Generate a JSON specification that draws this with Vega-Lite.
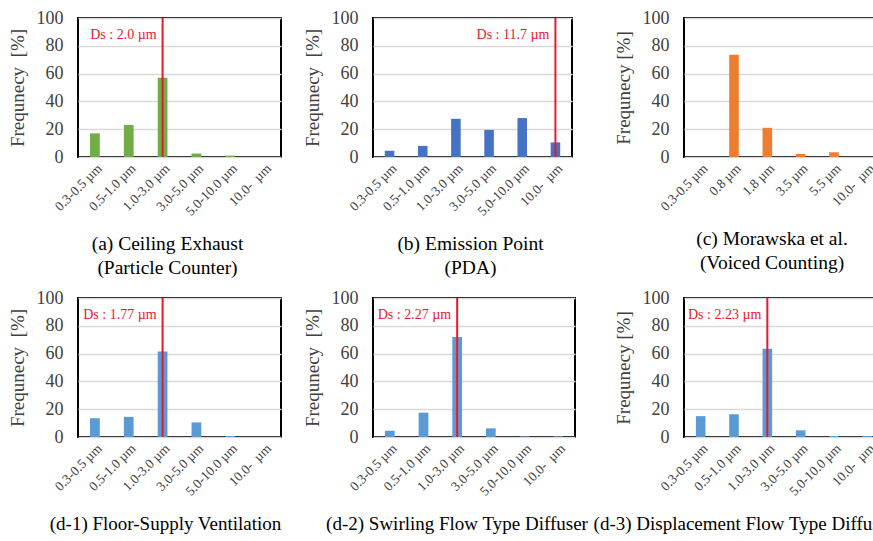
{
  "$schema": "https://vega.github.io/schema/vega-lite/v6.json",
  "background": "white",
  "padding": {"left": 7, "top": 8, "right": 0, "bottom": 0},
  "datasets": {
    "a": [
      {"size": "0.3-0.5 µm", "freq": 17},
      {"size": "0.5-1.0 µm", "freq": 23},
      {"size": "1.0-3.0 µm", "freq": 57},
      {"size": "3.0-5.0 µm", "freq": 2.5},
      {"size": "5.0-10.0 µm", "freq": 1},
      {"size": "10.0-\u00a0\u00a0µm", "freq": 0}
    ],
    "b": [
      {"size": "0.3-0.5 µm", "freq": 4.5},
      {"size": "0.5-1.0 µm", "freq": 8},
      {"size": "1.0-3.0 µm", "freq": 27.5},
      {"size": "3.0-5.0 µm", "freq": 19.5},
      {"size": "5.0-10.0 µm", "freq": 28},
      {"size": "10.0-\u00a0\u00a0µm", "freq": 10.5}
    ],
    "c": [
      {"size": "0.3-0.5 µm", "freq": 0},
      {"size": "0.8 µm", "freq": 73.5},
      {"size": "1.8 µm", "freq": 21},
      {"size": "3.5 µm", "freq": 2.2},
      {"size": "5.5 µm", "freq": 3.4},
      {"size": "10.0-\u00a0\u00a0µm", "freq": 0}
    ],
    "d1": [
      {"size": "0.3-0.5 µm", "freq": 13.5},
      {"size": "0.5-1.0 µm", "freq": 14.5},
      {"size": "1.0-3.0 µm", "freq": 61.5},
      {"size": "3.0-5.0 µm", "freq": 10.5},
      {"size": "5.0-10.0 µm", "freq": 0.7},
      {"size": "10.0-\u00a0\u00a0µm", "freq": 0}
    ],
    "d2": [
      {"size": "0.3-0.5 µm", "freq": 4.5},
      {"size": "0.5-1.0 µm", "freq": 17.5},
      {"size": "1.0-3.0 µm", "freq": 72},
      {"size": "3.0-5.0 µm", "freq": 6.2},
      {"size": "5.0-10.0 µm", "freq": 0.5},
      {"size": "10.0-\u00a0\u00a0µm", "freq": 0.5}
    ],
    "d3": [
      {"size": "0.3-0.5 µm", "freq": 15},
      {"size": "0.5-1.0 µm", "freq": 16.3},
      {"size": "1.0-3.0 µm", "freq": 63.5},
      {"size": "3.0-5.0 µm", "freq": 4.8},
      {"size": "5.0-10.0 µm", "freq": 0.7},
      {"size": "10.0-\u00a0\u00a0µm", "freq": 0.7}
    ],
    "ds": [
      {"panel": "a", "size": "1.0-3.0 µm", "label": "Ds : 2.0 µm"},
      {"panel": "b", "size": "10.0-\u00a0\u00a0µm", "label": "Ds : 11.7 µm"},
      {"panel": "d1", "size": "1.0-3.0 µm", "label": "Ds : 1.77 µm"},
      {"panel": "d2", "size": "1.0-3.0 µm", "label": "Ds : 2.27 µm"},
      {"panel": "d3", "size": "1.0-3.0 µm", "label": "Ds : 2.23 µm"}
    ]
  },
  "concat": [
    {
      "width": 203, "height": 139,
      "title": {"text": ["(a) Ceiling Exhaust", "(Particle Counter)"], "dx": -12, "orient": "bottom", "anchor": "middle", "frame": "group", "font": "Liberation Serif", "fontSize": 19.5, "fontWeight": "normal", "color": "black", "lineHeight": 24, "offset": 17},
      "encoding": {"x": {"field": "size", "type": "nominal", "title": null, "scale": {"domain": ["0.3-0.5 µm", "0.5-1.0 µm", "1.0-3.0 µm", "3.0-5.0 µm", "5.0-10.0 µm", "10.0-\u00a0\u00a0µm"]},
        "axis": {"labelAngle": -45, "labelFont": "Liberation Serif", "labelFontSize": 13.5, "labelColor": "#404040", "labelPadding": 4, "domain": false, "ticks": false, "grid": false, "labelOverlap": false}}},
      "layer": [
        {"data": {"name": "a"}, "mark": {"type": "bar", "color": "#70AD47", "width": {"band": 0.32}},
         "encoding": {"y": {"field": "freq", "type": "quantitative", "title": "Frequnecy\u00a0\u00a0[%]", "scale": {"domain": [0, 100], "nice": false},
           "axis": {"values": [0, 20, 40, 60, 80, 100], "labelFont": "Liberation Serif", "labelFontSize": 18, "labelColor": "#404040", "labelPadding": 15, "labelOverlap": false, "titleFont": "Liberation Serif", "titleFontSize": 19, "titleFontWeight": "normal", "titleColor": "#404040", "titlePadding": 9, "domain": false, "ticks": false, "grid": true, "gridColor": "#D9D9D9", "gridWidth": 1.5}}}},
        {"data": {"name": "ds"}, "transform": [{"filter": "datum.panel === 'a'"}], "mark": {"type": "rule", "color": "#E8192C", "strokeWidth": 2}, "encoding": {}},
        {"data": {"name": "ds"}, "transform": [{"filter": "datum.panel === 'a'"}], "mark": {"type": "text", "align": "right", "baseline": "middle", "dx": -6, "color": "#E8192C", "font": "Liberation Serif", "fontSize": 14},
         "encoding": {"y": {"datum": 88, "type": "quantitative", "title": "Frequnecy\u00a0\u00a0[%]", "scale": {"domain": [0, 100], "nice": false},
           "axis": {"values": [0, 20, 40, 60, 80, 100], "labelFont": "Liberation Serif", "labelFontSize": 18, "labelColor": "#404040", "labelPadding": 15, "labelOverlap": false, "titleFont": "Liberation Serif", "titleFontSize": 19, "titleFontWeight": "normal", "titleColor": "#404040", "titlePadding": 9, "domain": false, "ticks": false, "grid": true, "gridColor": "#D9D9D9", "gridWidth": 1.5}}, "text": {"field": "label"}}}
      ]
    },
    {"width": 90, "height": 139, "data": {"values": [{"v": 1}]}, "mark": {"type": "point", "opacity": 0}, "encoding": {}, "view": {"stroke": null}},
    {
      "width": 199, "height": 139,
      "title": {"text": ["(b) Emission Point", "(PDA)"], "dx": -2, "orient": "bottom", "anchor": "middle", "frame": "group", "font": "Liberation Serif", "fontSize": 19.5, "fontWeight": "normal", "color": "black", "lineHeight": 24, "offset": 17},
      "encoding": {"x": {"field": "size", "type": "nominal", "title": null, "scale": {"domain": ["0.3-0.5 µm", "0.5-1.0 µm", "1.0-3.0 µm", "3.0-5.0 µm", "5.0-10.0 µm", "10.0-\u00a0\u00a0µm"]},
        "axis": {"labelAngle": -45, "labelFont": "Liberation Serif", "labelFontSize": 13.5, "labelColor": "#404040", "labelPadding": 4, "domain": false, "ticks": false, "grid": false, "labelOverlap": false}}},
      "layer": [
        {"data": {"name": "b"}, "mark": {"type": "bar", "color": "#4472C4", "width": {"band": 0.32}},
         "encoding": {"y": {"field": "freq", "type": "quantitative", "title": "Frequnecy\u00a0\u00a0[%]", "scale": {"domain": [0, 100], "nice": false},
           "axis": {"values": [0, 20, 40, 60, 80, 100], "labelFont": "Liberation Serif", "labelFontSize": 18, "labelColor": "#404040", "labelPadding": 15, "labelOverlap": false, "titleFont": "Liberation Serif", "titleFontSize": 19, "titleFontWeight": "normal", "titleColor": "#404040", "titlePadding": 9, "domain": false, "ticks": false, "grid": true, "gridColor": "#D9D9D9", "gridWidth": 1.5}}}},
        {"data": {"name": "ds"}, "transform": [{"filter": "datum.panel === 'b'"}], "mark": {"type": "rule", "color": "#E8192C", "strokeWidth": 2}, "encoding": {}},
        {"data": {"name": "ds"}, "transform": [{"filter": "datum.panel === 'b'"}], "mark": {"type": "text", "align": "right", "baseline": "middle", "dx": -6, "color": "#E8192C", "font": "Liberation Serif", "fontSize": 14},
         "encoding": {"y": {"datum": 88, "type": "quantitative", "title": "Frequnecy\u00a0\u00a0[%]", "scale": {"domain": [0, 100], "nice": false},
           "axis": {"values": [0, 20, 40, 60, 80, 100], "labelFont": "Liberation Serif", "labelFontSize": 18, "labelColor": "#404040", "labelPadding": 15, "labelOverlap": false, "titleFont": "Liberation Serif", "titleFontSize": 19, "titleFontWeight": "normal", "titleColor": "#404040", "titlePadding": 9, "domain": false, "ticks": false, "grid": true, "gridColor": "#D9D9D9", "gridWidth": 1.5}}, "text": {"field": "label"}}}
      ]
    },
    {"width": 109, "height": 139, "data": {"values": [{"v": 1}]}, "mark": {"type": "point", "opacity": 0}, "encoding": {}, "view": {"stroke": null}},
    {
      "width": 200, "height": 139,
      "title": {"text": ["(c) Morawska et al.", "(Voiced Counting)"], "dx": -12, "orient": "bottom", "anchor": "middle", "frame": "group", "font": "Liberation Serif", "fontSize": 19.5, "fontWeight": "normal", "color": "black", "lineHeight": 24, "offset": 17},
      "encoding": {"x": {"field": "size", "type": "nominal", "title": null, "scale": {"domain": ["0.3-0.5 µm", "0.8 µm", "1.8 µm", "3.5 µm", "5.5 µm", "10.0-\u00a0\u00a0µm"]},
        "axis": {"labelAngle": -45, "labelFont": "Liberation Serif", "labelFontSize": 13.5, "labelColor": "#404040", "labelPadding": 4, "domain": false, "ticks": false, "grid": false, "labelOverlap": false}}},
      "layer": [
        {"data": {"name": "c"}, "mark": {"type": "bar", "color": "#ED7D31", "width": {"band": 0.32}},
         "encoding": {"y": {"field": "freq", "type": "quantitative", "title": "Frequnecy [%]", "scale": {"domain": [0, 100], "nice": false},
           "axis": {"values": [0, 20, 40, 60, 80, 100], "labelFont": "Liberation Serif", "labelFontSize": 18, "labelColor": "#404040", "labelPadding": 15, "labelOverlap": false, "titleFont": "Liberation Serif", "titleFontSize": 19, "titleFontWeight": "normal", "titleColor": "#404040", "titlePadding": 9, "domain": false, "ticks": false, "grid": true, "gridColor": "#D9D9D9", "gridWidth": 1.5}}}}
      ]
    },
    {
      "width": 203, "height": 139,
      "title": {"text": "(d-1) Floor-Supply Ventilation", "dx": -14, "orient": "bottom", "anchor": "middle", "frame": "group", "font": "Liberation Serif", "fontSize": 19, "fontWeight": "normal", "color": "black", "lineHeight": 24, "offset": 17},
      "encoding": {"x": {"field": "size", "type": "nominal", "title": null, "scale": {"domain": ["0.3-0.5 µm", "0.5-1.0 µm", "1.0-3.0 µm", "3.0-5.0 µm", "5.0-10.0 µm", "10.0-\u00a0\u00a0µm"]},
        "axis": {"labelAngle": -45, "labelFont": "Liberation Serif", "labelFontSize": 13.5, "labelColor": "#404040", "labelPadding": 4, "domain": false, "ticks": false, "grid": false, "labelOverlap": false}}},
      "layer": [
        {"data": {"name": "d1"}, "mark": {"type": "bar", "color": "#5B9BD5", "width": {"band": 0.32}},
         "encoding": {"y": {"field": "freq", "type": "quantitative", "title": "Frequnecy\u00a0\u00a0[%]", "scale": {"domain": [0, 100], "nice": false},
           "axis": {"values": [0, 20, 40, 60, 80, 100], "labelFont": "Liberation Serif", "labelFontSize": 18, "labelColor": "#404040", "labelPadding": 15, "labelOverlap": false, "titleFont": "Liberation Serif", "titleFontSize": 19, "titleFontWeight": "normal", "titleColor": "#404040", "titlePadding": 9, "domain": false, "ticks": false, "grid": true, "gridColor": "#D9D9D9", "gridWidth": 1.5}}}},
        {"data": {"name": "ds"}, "transform": [{"filter": "datum.panel === 'd1'"}], "mark": {"type": "rule", "color": "#E8192C", "strokeWidth": 2}, "encoding": {}},
        {"data": {"name": "ds"}, "transform": [{"filter": "datum.panel === 'd1'"}], "mark": {"type": "text", "align": "right", "baseline": "middle", "dx": -6, "color": "#E8192C", "font": "Liberation Serif", "fontSize": 14},
         "encoding": {"y": {"datum": 88, "type": "quantitative", "title": "Frequnecy\u00a0\u00a0[%]", "scale": {"domain": [0, 100], "nice": false},
           "axis": {"values": [0, 20, 40, 60, 80, 100], "labelFont": "Liberation Serif", "labelFontSize": 18, "labelColor": "#404040", "labelPadding": 15, "labelOverlap": false, "titleFont": "Liberation Serif", "titleFontSize": 19, "titleFontWeight": "normal", "titleColor": "#404040", "titlePadding": 9, "domain": false, "ticks": false, "grid": true, "gridColor": "#D9D9D9", "gridWidth": 1.5}}, "text": {"field": "label"}}}
      ]
    },
    {"width": 92, "height": 139, "data": {"values": [{"v": 1}]}, "mark": {"type": "point", "opacity": 0}, "encoding": {}, "view": {"stroke": null}},
    {
      "width": 202, "height": 139,
      "title": {"text": "(d-2) Swirling Flow Type Diffuser", "dx": -17, "orient": "bottom", "anchor": "middle", "frame": "group", "font": "Liberation Serif", "fontSize": 19, "fontWeight": "normal", "color": "black", "lineHeight": 24, "offset": 17},
      "encoding": {"x": {"field": "size", "type": "nominal", "title": null, "scale": {"domain": ["0.3-0.5 µm", "0.5-1.0 µm", "1.0-3.0 µm", "3.0-5.0 µm", "5.0-10.0 µm", "10.0-\u00a0\u00a0µm"]},
        "axis": {"labelAngle": -45, "labelFont": "Liberation Serif", "labelFontSize": 13.5, "labelColor": "#404040", "labelPadding": 4, "domain": false, "ticks": false, "grid": false, "labelOverlap": false}}},
      "layer": [
        {"data": {"name": "d2"}, "mark": {"type": "bar", "color": "#5B9BD5", "width": {"band": 0.32}},
         "encoding": {"y": {"field": "freq", "type": "quantitative", "title": "Frequnecy\u00a0\u00a0[%]", "scale": {"domain": [0, 100], "nice": false},
           "axis": {"values": [0, 20, 40, 60, 80, 100], "labelFont": "Liberation Serif", "labelFontSize": 18, "labelColor": "#404040", "labelPadding": 15, "labelOverlap": false, "titleFont": "Liberation Serif", "titleFontSize": 19, "titleFontWeight": "normal", "titleColor": "#404040", "titlePadding": 9, "domain": false, "ticks": false, "grid": true, "gridColor": "#D9D9D9", "gridWidth": 1.5}}}},
        {"data": {"name": "ds"}, "transform": [{"filter": "datum.panel === 'd2'"}], "mark": {"type": "rule", "color": "#E8192C", "strokeWidth": 2}, "encoding": {}},
        {"data": {"name": "ds"}, "transform": [{"filter": "datum.panel === 'd2'"}], "mark": {"type": "text", "align": "right", "baseline": "middle", "dx": -6, "color": "#E8192C", "font": "Liberation Serif", "fontSize": 14},
         "encoding": {"y": {"datum": 88, "type": "quantitative", "title": "Frequnecy\u00a0\u00a0[%]", "scale": {"domain": [0, 100], "nice": false},
           "axis": {"values": [0, 20, 40, 60, 80, 100], "labelFont": "Liberation Serif", "labelFontSize": 18, "labelColor": "#404040", "labelPadding": 15, "labelOverlap": false, "titleFont": "Liberation Serif", "titleFontSize": 19, "titleFontWeight": "normal", "titleColor": "#404040", "titlePadding": 9, "domain": false, "ticks": false, "grid": true, "gridColor": "#D9D9D9", "gridWidth": 1.5}}, "text": {"field": "label"}}}
      ]
    },
    {"width": 104, "height": 139, "data": {"values": [{"v": 1}]}, "mark": {"type": "point", "opacity": 0}, "encoding": {}, "view": {"stroke": null}},
    {
      "width": 200, "height": 139,
      "title": {"text": "(d-3) Displacement Flow Type Diffuser", "dx": -40, "orient": "bottom", "anchor": "middle", "frame": "group", "font": "Liberation Serif", "fontSize": 19, "fontWeight": "normal", "color": "black", "lineHeight": 24, "offset": 17},
      "encoding": {"x": {"field": "size", "type": "nominal", "title": null, "scale": {"domain": ["0.3-0.5 µm", "0.5-1.0 µm", "1.0-3.0 µm", "3.0-5.0 µm", "5.0-10.0 µm", "10.0-\u00a0\u00a0µm"]},
        "axis": {"labelAngle": -45, "labelFont": "Liberation Serif", "labelFontSize": 13.5, "labelColor": "#404040", "labelPadding": 4, "domain": false, "ticks": false, "grid": false, "labelOverlap": false}}},
      "layer": [
        {"data": {"name": "d3"}, "mark": {"type": "bar", "color": "#5B9BD5", "width": {"band": 0.32}},
         "encoding": {"y": {"field": "freq", "type": "quantitative", "title": "Frequnecy [%]", "scale": {"domain": [0, 100], "nice": false},
           "axis": {"values": [0, 20, 40, 60, 80, 100], "labelFont": "Liberation Serif", "labelFontSize": 18, "labelColor": "#404040", "labelPadding": 15, "labelOverlap": false, "titleFont": "Liberation Serif", "titleFontSize": 19, "titleFontWeight": "normal", "titleColor": "#404040", "titlePadding": 9, "domain": false, "ticks": false, "grid": true, "gridColor": "#D9D9D9", "gridWidth": 1.5}}}},
        {"data": {"name": "ds"}, "transform": [{"filter": "datum.panel === 'd3'"}], "mark": {"type": "rule", "color": "#E8192C", "strokeWidth": 2}, "encoding": {}},
        {"data": {"name": "ds"}, "transform": [{"filter": "datum.panel === 'd3'"}], "mark": {"type": "text", "align": "right", "baseline": "middle", "dx": -6, "color": "#E8192C", "font": "Liberation Serif", "fontSize": 14},
         "encoding": {"y": {"datum": 88, "type": "quantitative", "title": "Frequnecy [%]", "scale": {"domain": [0, 100], "nice": false},
           "axis": {"values": [0, 20, 40, 60, 80, 100], "labelFont": "Liberation Serif", "labelFontSize": 18, "labelColor": "#404040", "labelPadding": 15, "labelOverlap": false, "titleFont": "Liberation Serif", "titleFontSize": 19, "titleFontWeight": "normal", "titleColor": "#404040", "titlePadding": 9, "domain": false, "ticks": false, "grid": true, "gridColor": "#D9D9D9", "gridWidth": 1.5}}, "text": {"field": "label"}}}
      ]
    }
  ],
  "columns": 5,
  "spacing": {"row": 141, "column": 0},
  "bounds": "flush",
  "align": "each",
  "config": {
    "font": "Liberation Serif",
    "view": {"stroke": "black", "strokeWidth": 2}
  }
}
